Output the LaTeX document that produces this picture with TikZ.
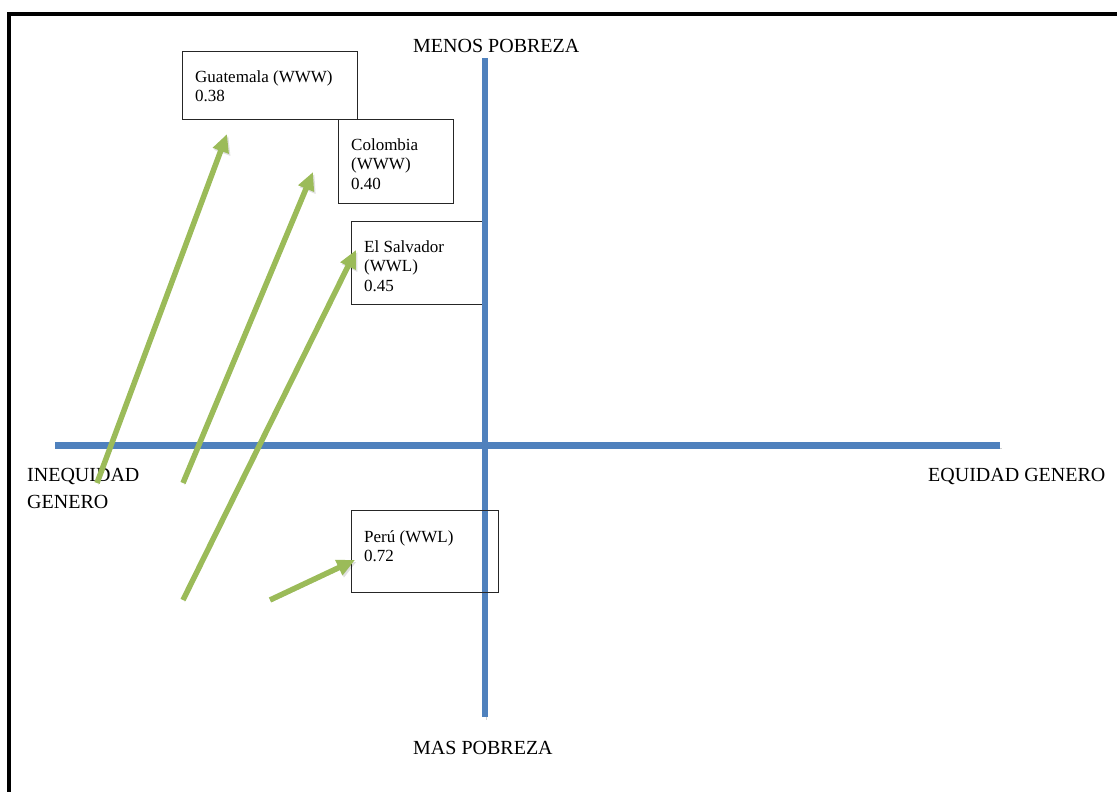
\documentclass[tikz,border=0pt]{standalone}
\usepackage{fontspec}
\setmainfont{Liberation Serif}
\usetikzlibrary{arrows.meta}
\definecolor{axisblue}{HTML}{4F81BD}
\definecolor{arrowgreen}{HTML}{9BBB59}
\newcommand\lns[1]{\vtop{\halign{##\hfil\cr #1\crcr}}}
\begin{document}
\begin{tikzpicture}[x=1pt,y=-1pt,
  axisline/.style={draw=axisblue, line width=6.5pt,
    preaction={draw=black, opacity=0.18, transform canvas={shift={(1.5pt,-2.5pt)}}}},
  garrow/.style={draw=arrowgreen, line width=5.5pt, -{Triangle[length=18pt,width=16pt]},
    preaction={draw=black, opacity=0.12, transform canvas={shift={(1.5pt,-2pt)}}}},
  axislabel/.style={font=\fontsize{20}{27}\selectfont, inner sep=0pt, anchor=base west},
  databox/.style={draw=black!85, line width=1.3pt, inner sep=0pt, anchor=north west},
  boxtext/.style={font=\fontsize{17}{19.5}\selectfont, inner sep=0pt, anchor=base west},
]
\useasboundingbox (0,0) rectangle (1117,792);
% frame
\draw[line width=4pt, line join=miter] (1117,14) -- (9,14) -- (9,792);

% El Salvador box (under the axis)
\node[databox, minimum width=131pt, minimum height=83pt] (elsbox) at (351,221) {};

% axes
\coordinate (vtop) at (485,58);
\coordinate (vbot) at (485,717);
\coordinate (hleft) at (55,445.5);
\coordinate (hright) at (1000,445.5);
\draw[axisline] (hleft) -- (hright);
\draw[axisline] (vtop) -- (vbot);

% axis labels
\node[axislabel] (menos) at (413,53) {MENOS POBREZA};
\node[axislabel] (mas) at (413,754) {MAS POBREZA};
\node[axislabel] (ineq) at (27,481) {\lns{INEQUIDAD\cr GENERO}};
\node[axislabel] (equi) at (928,481) {EQUIDAD GENERO};

% boxes
\node[databox, minimum width=175pt, minimum height=68pt] (guabox) at (182,51) {};
\node[databox, minimum width=115pt, minimum height=84pt] (colbox) at (338,119) {};
\node[databox, minimum width=147pt, minimum height=82pt] (perbox) at (351,510) {};

\node[boxtext] (guatxt) at (195,82) {\lns{Guatemala (WWW)\cr 0.38}};
\node[boxtext] (coltxt) at (351,150) {\lns{Colombia\cr (WWW)\cr 0.40}};
\node[boxtext] (elstxt) at (364,252) {\lns{El Salvador\cr (WWL)\cr 0.45}};
\node[boxtext] (pertxt) at (364,542) {\lns{Perú (WWL)\cr 0.72}};

% arrows
\coordinate (t1) at (97,483);   \coordinate (h1) at (227,134);
\coordinate (t2) at (183,483);  \coordinate (h2) at (313,172);
\coordinate (t3) at (183,600);  \coordinate (h3) at (356,250);
\coordinate (t4) at (270,600);  \coordinate (h4) at (355,560);
\draw[garrow] (t1) -- (h1);
\draw[garrow] (t2) -- (h2);
\draw[garrow] (t3) -- (h3);
\draw[garrow] (t4) -- (h4);
\end{tikzpicture}
\end{document}
